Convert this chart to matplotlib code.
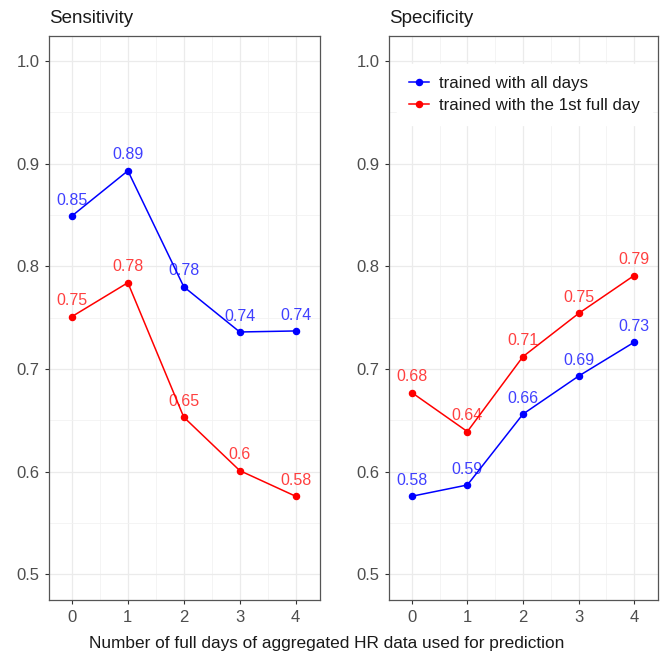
import matplotlib
matplotlib.use("Agg")
import matplotlib.pyplot as plt
from matplotlib.ticker import MultipleLocator

plt.rcParams['font.family'] = ['Liberation Sans', 'DejaVu Sans']

days = [0, 1, 2, 3, 4]

sens_all = [0.849, 0.893, 0.780, 0.736, 0.737]
sens_first = [0.751, 0.784, 0.653, 0.601, 0.576]
spec_all = [0.576, 0.587, 0.656, 0.693, 0.726]
spec_first = [0.677, 0.639, 0.712, 0.754, 0.791]

lab_all = ["trained with all days"]
lab_first = ["trained with the 1st full day"]

blue = "#0000FF"
red = "#FF0000"

fig = plt.figure(figsize=(6.62, 6.57), dpi=100)
ax1 = fig.add_axes([0.074, 0.0868, 0.409, 0.858])
ax2 = fig.add_axes([0.5876, 0.0868, 0.4064, 0.858])

def panel(ax, a, b):
    ax.plot(days, a, color=blue, lw=1.1, marker="o", ms=4.4, label=lab_all[0], zorder=3)
    ax.plot(days, b, color=red, lw=1.1, marker="o", ms=4.4, label=lab_first[0], zorder=3)
    for x, y in zip(days, a):
        ax.annotate(f"{round(y, 2):g}", (x, y), xytext=(0, 6), textcoords="offset points",
                    ha="center", va="bottom", color=blue, alpha=0.75, fontsize=11.5, zorder=4)
    for x, y in zip(days, b):
        ax.annotate(f"{round(y, 2):g}", (x, y), xytext=(0, 6), textcoords="offset points",
                    ha="center", va="bottom", color=red, alpha=0.75, fontsize=11.5, zorder=4)
    ax.set_xlim(-0.41, 4.43)
    ax.set_ylim(0.475, 1.024)
    ax.set_xticks(days)
    ax.set_yticks([0.5, 0.6, 0.7, 0.8, 0.9, 1.0])
    ax.set_yticklabels(["0.5", "0.6", "0.7", "0.8", "0.9", "1.0"])
    ax.xaxis.set_minor_locator(MultipleLocator(0.5))
    ax.yaxis.set_minor_locator(MultipleLocator(0.05))
    ax.grid(which="major", color="#EBEBEB", lw=0.9, zorder=0)
    ax.grid(which="minor", color="#F2F2F2", lw=0.6, zorder=0)
    ax.tick_params(which="major", length=3, color="#333333", labelcolor="#4D4D4D",
                   labelsize=12, width=0.8, pad=4)
    ax.tick_params(which="minor", length=0)
    for s in ax.spines.values():
        s.set_color("#555555")
        s.set_linewidth(0.9)

panel(ax1, sens_all, sens_first)
panel(ax2, spec_all, spec_first)

leg = ax2.legend(loc="upper left", bbox_to_anchor=(0.0, 0.966), frameon=True, fontsize=12.2,
                 handlelength=1.15, handletextpad=0.6, borderpad=0.7, labelspacing=0.42)
leg.get_frame().set_edgecolor("white")
leg.get_frame().set_facecolor("white")
leg.get_frame().set_alpha(1.0)
leg.get_frame().set_boxstyle("square", pad=0.0)
for t in leg.get_texts():
    t.set_color("#1A1A1A")

fig.text(0.074, 0.965, "Sensitivity", fontsize=13.5, color="#1A1A1A", ha="left", va="baseline")
fig.text(0.5876, 0.965, "Specificity", fontsize=13.5, color="#1A1A1A", ha="left", va="baseline")
fig.text(0.494, 0.0095, "Number of full days of aggregated HR data used for prediction",
         fontsize=12.4, color="#1A1A1A", ha="center", va="bottom")

fig.savefig("out.png", dpi=100, facecolor="white")
